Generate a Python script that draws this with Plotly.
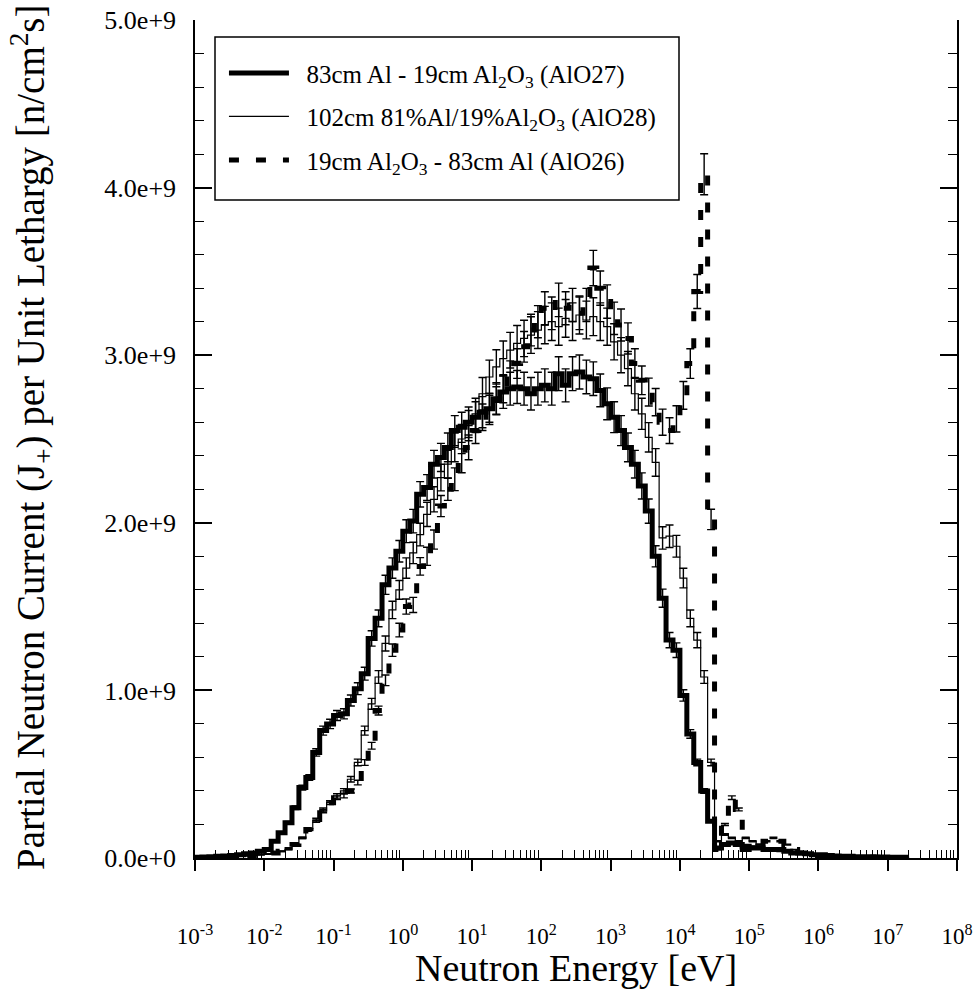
import plotly.graph_objects as go

# ---------------- data ----------------
# lethargy-group edges, log10(E / eV)
log_e_edges = [
    -3.0, -2.9, -2.8, -2.7, -2.6, -2.5, -2.4, -2.3, -2.2, -2.1,
    -2.0, -1.9, -1.8, -1.7, -1.6, -1.5, -1.4, -1.3, -1.2, -1.1,
    -1.0, -0.9, -0.8, -0.7, -0.6, -0.5, -0.4, -0.3, -0.2, -0.1,
    0.0, 0.1, 0.2, 0.3, 0.4, 0.5, 0.6, 0.7, 0.8, 0.9,
    1.0, 1.1, 1.2, 1.3, 1.4, 1.5, 1.6, 1.7, 1.8, 1.9,
    2.0, 2.1, 2.2, 2.3, 2.4, 2.5, 2.6, 2.7, 2.8, 2.9,
    3.0, 3.1, 3.2, 3.3, 3.4, 3.5, 3.6, 3.7, 3.8, 3.9,
    4.0, 4.1, 4.2, 4.3, 4.4, 4.5, 4.6, 4.7, 4.8, 4.9,
    5.0, 5.1, 5.2, 5.3, 5.4, 5.5, 5.6, 5.7, 5.8, 5.9,
    6.0, 6.1, 6.2, 6.3, 6.4, 6.5, 6.6, 6.7, 6.8, 6.9,
    7.0, 7.1, 7.2, 7.3,
]

# partial current per unit lethargy, units of 1e9 n/cm^2 s
alo27 = [  # 83cm Al - 19cm Al2O3
    0.005, 0.006, 0.008, 0.010, 0.012, 0.015, 0.020, 0.025, 0.030, 0.040,
    0.05, 0.10, 0.15, 0.21, 0.30, 0.42, 0.48, 0.63, 0.76, 0.80,
    0.85, 0.86, 0.94, 1.01, 1.10, 1.31, 1.43, 1.63, 1.73, 1.83,
    1.95, 2.01, 2.17, 2.21, 2.35, 2.39, 2.45, 2.55, 2.57, 2.60,
    2.63, 2.66, 2.68, 2.74, 2.78, 2.80, 2.81, 2.80, 2.77, 2.80,
    2.82, 2.80, 2.89, 2.82, 2.89, 2.90, 2.87, 2.86, 2.79, 2.71,
    2.63, 2.55, 2.45, 2.35, 2.22, 2.07, 1.80, 1.55, 1.30, 1.24,
    0.97, 0.74, 0.57, 0.40, 0.22, 0.06, 0.08, 0.09, 0.08, 0.07,
    0.06, 0.06, 0.05, 0.05, 0.05, 0.04, 0.03, 0.03, 0.025, 0.02,
    0.02, 0.015, 0.012, 0.010, 0.010, 0.008, 0.008, 0.007, 0.006, 0.006,
    0.005, 0.005, 0.005,
]
alo28 = [  # 102cm 81%Al/19%Al2O3
    0.003, 0.004, 0.005, 0.006, 0.008, 0.010, 0.012, 0.015, 0.018, 0.022,
    0.025, 0.03, 0.04, 0.05, 0.08, 0.12, 0.17, 0.22, 0.28, 0.33,
    0.37, 0.40, 0.47, 0.57, 0.76, 0.92, 1.08, 1.28, 1.48, 1.60,
    1.73, 1.82, 1.93, 2.05, 2.14, 2.27, 2.35, 2.45, 2.50, 2.58,
    2.65, 2.77, 2.87, 2.93, 2.98, 3.03, 3.07, 3.10, 3.12, 3.15,
    3.18, 3.20, 3.17, 3.22, 3.20, 3.24, 3.21, 3.23, 3.20, 3.17,
    3.08, 3.00, 2.92, 2.77, 2.65, 2.51, 2.36, 1.91, 1.92, 1.86,
    1.67, 1.43, 1.30, 1.08, 0.57, 0.10, 0.14, 0.12, 0.10, 0.12,
    0.10, 0.08, 0.06, 0.05, 0.04, 0.035, 0.03, 0.025, 0.02, 0.02,
    0.015, 0.012, 0.010, 0.010, 0.008, 0.007, 0.006, 0.006, 0.005, 0.005,
    0.004, 0.004, 0.004,
]
alo26 = [  # 19cm Al2O3 - 83cm Al
    0.002, 0.003, 0.004, 0.005, 0.006, 0.008, 0.010, 0.012, 0.015, 0.018,
    0.022, 0.03, 0.04, 0.06, 0.08, 0.12, 0.17, 0.23, 0.29, 0.33,
    0.36, 0.37, 0.40, 0.45, 0.57, 0.67, 0.88, 1.06, 1.24, 1.36,
    1.50, 1.51, 1.74, 1.80, 1.90, 2.10, 2.20, 2.26, 2.37, 2.45,
    2.55, 2.63, 2.68, 2.73, 2.80, 2.88, 2.95, 3.05, 3.15, 3.20,
    3.28, 3.25, 3.33, 3.28, 3.30, 3.25, 3.30, 3.52, 3.40, 3.32,
    3.22, 3.18, 3.10, 2.95, 2.85, 2.78, 2.72, 2.60, 2.55, 2.62,
    2.76, 2.95, 3.38, 4.08, 2.02, 0.05, 0.20, 0.36, 0.29, 0.05,
    0.07, 0.08, 0.10, 0.12, 0.10, 0.08, 0.05, 0.03, 0.02, 0.015,
    0.012, 0.010, 0.008, 0.007, 0.006, 0.005, 0.005, 0.004, 0.004, 0.003,
    0.003, 0.003, 0.003,
]
rel_err = {"AlO27": 0.035, "AlO28": 0.035, "AlO26": 0.03}

names = [
    "83cm Al - 19cm Al<sub>2</sub>O<sub>3</sub> (AlO27)",
    "102cm 81%Al/19%Al<sub>2</sub>O<sub>3</sub> (AlO28)",
    "19cm Al<sub>2</sub>O<sub>3</sub> - 83cm Al (AlO26)",
]

x_tick_exp = [-3, -2, -1, 0, 1, 2, 3, 4, 5, 6, 7, 8]
y_tick_vals = [0, 1e9, 2e9, 3e9, 4e9, 5e9]
y_tick_text = ["0.0e+0", "1.0e+9", "2.0e+9", "3.0e+9", "4.0e+9", "5.0e+9"]

# ---------------- figure ----------------
FONT = "Liberation Serif"
NB = "\u00a0\u00a0"
edges_e = [10 ** v for v in log_e_edges]
centers_e = [(edges_e[i] * edges_e[i + 1]) ** 0.5 for i in range(len(edges_e) - 1)]

styles = [
    ("AlO27", alo27, dict(color="black", width=5)),
    ("AlO28", alo28, dict(color="black", width=1.2)),
    ("AlO26", alo26, dict(color="black", width=5, dash="10px,17px")),
]

fig = go.Figure()
for (key, vals, line), name in zip(styles, names):
    yv = [v * 1e9 for v in vals]
    fig.add_trace(go.Scatter(
        x=edges_e, y=yv + [yv[-1]], mode="lines", line=dict(shape="hv", **line),
        name=NB + name, legendgroup=key, hoverinfo="skip",
    ))
    fig.add_trace(go.Scatter(
        x=centers_e, y=yv, mode="markers", marker=dict(size=1, color="black", opacity=0),
        error_y=dict(type="data", array=[v * rel_err[key] for v in yv], color="black",
                     thickness=1.4, width=4),
        showlegend=False, legendgroup=key, hoverinfo="skip",
    ))

major_x = [10.0 ** e for e in x_tick_exp]
minor_x = [m * 10.0 ** e for e in x_tick_exp[:-1] for m in range(2, 10)]
x_tick_text = ["10<sup>%d</sup>" % e for e in x_tick_exp]

common_x = dict(type="log", range=[-3, 8], showgrid=False, zeroline=False, automargin=False)

fig.update_layout(
    width=979, height=989,
    margin=dict(l=195, r=22, t=20, b=131, autoexpand=False),
    paper_bgcolor="white", plot_bgcolor="white",
    font=dict(family=FONT, color="black"),
    showlegend=True,
    legend=dict(
        x=0.038, y=0.964, xanchor="left", yanchor="top",
        bgcolor="rgba(0,0,0,0)", borderwidth=0,
        font=dict(family=FONT, size=25, color="black"),
        traceorder="grouped", tracegroupgap=8, itemwidth=60,
    ),
    xaxis=dict(
        **common_x, tickmode="array", tickvals=major_x, ticktext=x_tick_text,
        ticks="outside", ticklen=11, tickwidth=1.5, tickcolor="black",
        showline=True, linecolor="black", linewidth=1.5,
        tickfont=dict(family=FONT, size=23, color="black"), ticklabelstandoff=46,
        minor=dict(tickmode="array", tickvals=minor_x, ticks="inside", ticklen=8,
                   tickwidth=1, tickcolor="black", showgrid=False),
    ),
    xaxis2=dict(
        **common_x, overlaying="x", anchor="y", side="bottom",
        tickmode="array", tickvals=major_x, ticks="inside", ticklen=19,
        tickwidth=1.5, tickcolor="black", showticklabels=False, showline=False,
    ),
    xaxis3=dict(
        **common_x, overlaying="x", anchor="y", side="top",
        tickmode="array", tickvals=major_x, ticks="inside", ticklen=11,
        tickwidth=1.5, tickcolor="black", showticklabels=False,
        showline=True, linecolor="black", linewidth=1.5,
        minor=dict(tickmode="array", tickvals=minor_x, ticks="inside", ticklen=7,
                   tickwidth=1, tickcolor="black", showgrid=False),
    ),
    yaxis=dict(
        range=[0, 5e9], tickmode="array", tickvals=y_tick_vals, ticktext=y_tick_text,
        ticks="inside", ticklen=17, tickwidth=1.5, tickcolor="black",
        showline=True, linecolor="black", linewidth=1.5, mirror="ticks",
        showgrid=False, zeroline=False, automargin=False,
        tickfont=dict(family=FONT, size=26, color="black"), ticklabelstandoff=12,
        minor=dict(dtick=2e8, ticks="inside", ticklen=9, tickwidth=1,
                   tickcolor="black", showgrid=False),
    ),
    shapes=[dict(type="rect", xref="paper", yref="paper",
                 x0=(215 - 195) / 762, x1=(679 - 195) / 762,
                 y0=(858 - 200) / 838, y1=(858 - 37) / 838,
                 line=dict(color="black", width=1.5), fillcolor="rgba(0,0,0,0)")],
    annotations=[
        dict(text="Neutron Energy [eV]", xref="paper", yref="paper",
             x=0.5, y=(858 - 968) / 838, xanchor="center", yanchor="middle",
             showarrow=False, font=dict(family=FONT, size=38, color="black")),
        dict(text="Partial Neutron Current (J<sub>+</sub>) per Unit Lethargy [n/cm<sup>2</sup>s]",
             xref="paper", yref="paper", x=(32 - 195) / 762, y=(858 - 437) / 838,
             xanchor="center", yanchor="middle", textangle=-90, showarrow=False,
             font=dict(family=FONT, size=39, color="black")),
    ],
)

fig.write_html("out.html")
